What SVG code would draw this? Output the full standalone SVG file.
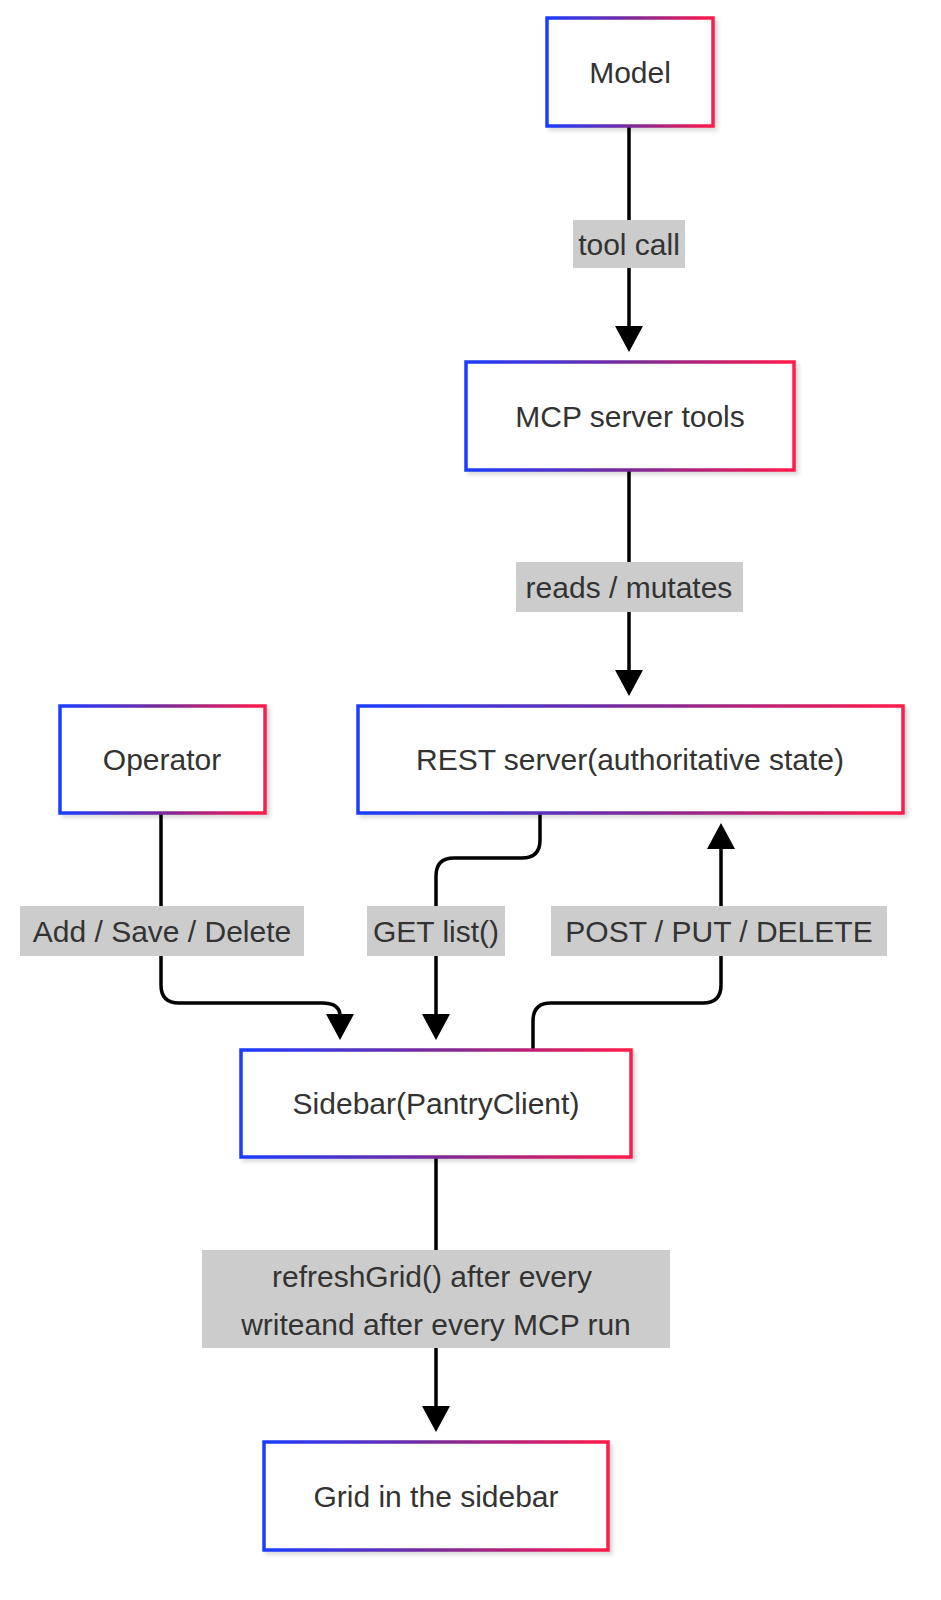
<svg xmlns="http://www.w3.org/2000/svg" width="941" height="1600" viewBox="0 0 941 1600">
<defs>
<linearGradient id="g" x1="0" y1="0" x2="1" y2="0"><stop offset="0" stop-color="#1a3cff"/><stop offset="0.5" stop-color="#7a2a9a"/><stop offset="1" stop-color="#ff1a4a"/></linearGradient>
<filter id="sh" x="-10%" y="-10%" width="130%" height="130%"><feDropShadow dx="3" dy="3" stdDeviation="2" flood-color="#000" flood-opacity="0.15"/></filter>
</defs>
<style>
.n rect{fill:#fff;stroke:url(#g);stroke-width:3.5;filter:url(#sh)}
text{font-family:"Liberation Sans",Arial,sans-serif;font-size:30px;fill:#333;text-anchor:middle;dominant-baseline:central}
.e path{fill:none;stroke:#000;stroke-width:3.5}
.e polygon{fill:#000}
.lb{fill:#cccccc}
</style>
<rect width="941" height="1600" fill="#fff"/>
<g class="e">
<path d="M629,126 V328"/>
<polygon points="615,326 643,326 629,352"/>
<path d="M629,470 V672"/>
<polygon points="615,670 643,670 629,696"/>
<path d="M540,813 V840 Q540,858 522,858 H454 Q436,858 436,876 V1016"/>
<polygon points="422,1014 450,1014 436,1040"/>
<path d="M161,813 V985 Q161,1003 179,1003 H322 Q340,1003 340,1016"/>
<polygon points="326,1014 354,1014 340,1040"/>
<path d="M533,1050 V1021 Q533,1003 551,1003 H703 Q721,1003 721,985 V847"/>
<polygon points="707,849 735,849 721,823"/>
<path d="M436,1157 V1408"/>
<polygon points="422,1406 450,1406 436,1432"/>
<rect class="lb" x="573" y="220" width="112" height="48"/><text x="629" y="244">tool call</text>
<rect class="lb" x="516" y="562" width="227" height="50"/><text x="629" y="587">reads / mutates</text>
<rect class="lb" x="20" y="906" width="284" height="50"/><text x="162" y="931">Add / Save / Delete</text>
<rect class="lb" x="367" y="906" width="138" height="50"/><text x="436" y="931">GET list()</text>
<rect class="lb" x="551" y="906" width="336" height="50"/><text x="719" y="931">POST / PUT / DELETE</text>
<rect class="lb" x="202" y="1250" width="468" height="98"/><text x="432" y="1276">refreshGrid() after every</text><text x="436" y="1324">writeand after every MCP run</text>
</g>
<g class="n" id="model"><rect x="547" y="18" width="166" height="108"/><text x="630" y="72">Model</text></g>
<g class="n" id="mcp"><rect x="466" y="362" width="328" height="108"/><text x="630" y="416">MCP server tools</text></g>
<g class="n" id="rest"><rect x="358" y="706" width="545" height="107"/><text x="630" y="759">REST server(authoritative state)</text></g>
<g class="n" id="operator"><rect x="60" y="706" width="205" height="107"/><text x="162" y="759">Operator</text></g>
<g class="n" id="sidebar"><rect x="241" y="1050" width="390" height="107"/><text x="436" y="1103">Sidebar(PantryClient)</text></g>
<g class="n" id="grid"><rect x="264" y="1442" width="344" height="108"/><text x="436" y="1496">Grid in the sidebar</text></g>
</svg>
